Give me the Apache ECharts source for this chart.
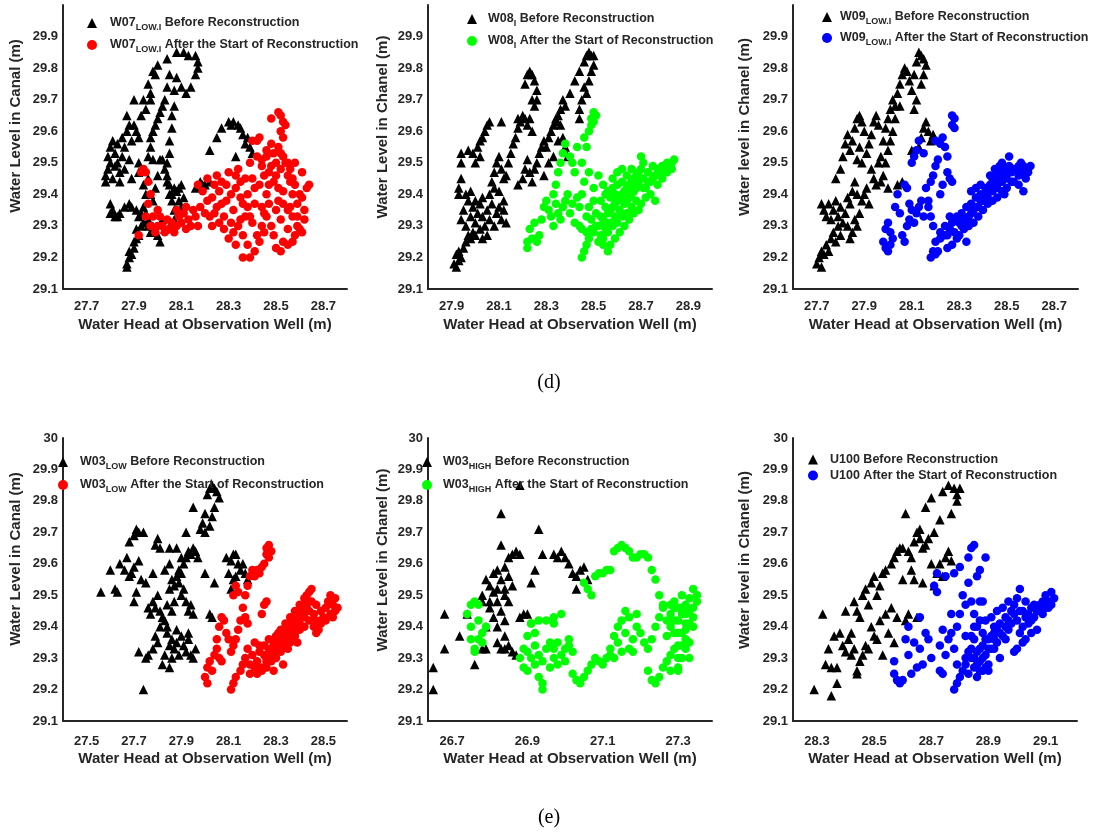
<!DOCTYPE html>
<html><head><meta charset="utf-8">
<script src="https://cdn.jsdelivr.net/npm/echarts@6/dist/echarts.min.js"></script>
<style>html,body{margin:0;padding:0;background:#fff}#c{width:1099px;height:834px}</style>
</head><body><div id="c"></div>
<script>
// ---------- DATA (x = water head at observation well, y = water level in canal/chanel) ----------
const w07Before = [[27.87,29.17],[27.87,29.18],[27.88,29.20],[27.88,29.22],[27.89,29.21],[27.90,29.23],[27.90,29.25],[27.91,29.26],[27.92,29.27],[27.91,29.29],[27.93,29.30],[27.94,29.31],[27.92,29.33],[27.95,29.34],[27.96,29.32],[27.94,29.36],
[27.80,29.37],[27.81,29.35],[27.82,29.33],[27.83,29.33],[27.84,29.34],[27.86,29.36],[27.88,29.37],[27.89,29.36],[27.91,29.35],[27.93,29.34],[27.80,29.34],
[27.78,29.46],[27.78,29.44],[27.79,29.48],[27.80,29.50],[27.80,29.55],[27.81,29.57],[27.82,29.53],[27.83,29.56],[27.83,29.50],[27.84,29.47],[27.85,29.52],[27.85,29.58],[27.86,29.55],[27.87,29.60],[27.87,29.65],[27.88,29.62],[27.89,29.57],[27.90,29.62],[27.90,29.70],[27.91,29.60],[27.92,29.58],[27.93,29.65],[27.94,29.70],[27.95,29.67],[27.96,29.75],[27.97,29.70],[27.97,29.72],[27.98,29.79],[27.99,29.78],[28.00,29.81],[28.04,29.83],[28.08,29.85],[28.11,29.85],[28.13,29.84],[28.16,29.84],[28.17,29.82],[28.17,29.80],[28.16,29.78],[28.14,29.74],[28.12,29.72],[28.10,29.74],[28.08,29.77],[28.07,29.73],[28.07,29.68],[28.06,29.65],[28.06,29.61],[28.05,29.57],[28.05,29.53],[28.04,29.50],[28.04,29.46],[28.05,29.43],[28.06,29.40],[28.07,29.42],
[28.05,29.78],[28.04,29.74],[28.03,29.70],[28.02,29.68],[28.01,29.66],[28.00,29.64],[27.99,29.62],[27.98,29.60],[27.97,29.58],[27.97,29.55],[27.96,29.52],[27.98,29.51],
[27.79,29.52],[27.81,29.45],[27.82,29.49],[27.84,29.44],[27.86,29.48],[27.88,29.51],[27.89,29.45],[27.92,29.50],[27.92,29.47],[28.09,29.42],[28.11,29.39],[28.10,29.43],
[28.22,29.54],[28.25,29.58],[28.27,29.61],[28.30,29.63],[28.32,29.63],[28.34,29.62],[28.35,29.61],[28.36,29.59],[28.38,29.58],[28.39,29.55],[28.40,29.53],[28.33,29.52],[28.37,29.56],[28.31,29.62],
[28.16,29.42],[28.18,29.44],[28.20,29.43],[28.22,29.44],[28.19,29.43],
[27.96,29.45],[27.97,29.40],[27.98,29.38],[27.99,29.42],[28.00,29.46],[28.01,29.51],[28.02,29.51],[28.03,29.48],[28.04,29.44],[28.05,29.40],[28.06,29.38],[28.07,29.35],[28.08,29.41],[28.09,29.38],[28.10,29.36],[28.02,29.32],[28.00,29.27],[28.01,29.25],[28.03,29.29],[28.05,29.30],[28.07,29.32],[27.98,29.30],[27.97,29.28],[27.96,29.30],[27.95,29.40],[27.94,29.43]];
const w07After = [[27.92,29.27],[27.93,29.47],[27.94,29.48],[27.95,29.47],[27.96,29.44],[27.97,29.40],[27.96,29.37],[27.95,29.33],[27.97,29.30],[27.99,29.28],[28.00,29.30],[28.01,29.33],[28.02,29.30],[28.03,29.28],[28.04,29.32],[28.05,29.29],[28.06,29.31],[28.07,29.28],[28.08,29.30],[28.09,29.33],[28.10,29.31],[28.11,29.34],[28.12,29.29],[28.13,29.32],[28.14,29.30],[28.15,29.35],[28.16,29.33],[28.17,29.30],[28.18,29.36],[28.20,29.34],[28.21,29.45],[28.19,29.41],[28.17,29.43],[28.23,29.39],[28.24,29.43],[28.25,29.46],[28.26,29.41],[28.27,29.37],[28.28,29.33],[28.29,29.43],[28.30,29.47],[28.31,29.40],[28.32,29.35],[28.33,29.42],[28.34,29.48],[28.35,29.44],[28.36,29.37],[28.37,29.33],[28.38,29.40],[28.39,29.50],[28.40,29.45],[28.41,29.42],[28.42,29.57],[28.43,29.58],[28.42,29.52],[28.44,29.49],[28.45,29.46],[28.46,29.40],[28.47,29.43],[28.48,29.49],[28.49,29.53],[28.50,29.46],[28.51,29.42],[28.52,29.48],[28.53,29.52],[28.54,29.50],[28.55,29.46],[28.56,29.44],[28.57,29.40],[28.58,29.43],[28.59,29.37],[28.60,29.40],[28.61,29.47],[28.62,29.35],[28.63,29.42],[28.64,29.43],[28.62,29.32],[28.61,29.28],[28.59,29.30],[28.57,29.33],[28.55,29.29],[28.53,29.25],[28.52,29.22],[28.50,29.23],[28.49,29.27],[28.48,29.30],[28.46,29.33],[28.45,29.28],[28.43,29.25],[28.41,29.22],[28.39,29.20],[28.36,29.20],[28.33,29.24],[28.32,29.28],[28.34,29.30],[28.30,29.26],[28.28,29.29],[28.26,29.31],[28.24,29.34],[28.22,29.33],[28.35,29.32],[28.38,29.36],[28.40,29.31],[28.44,29.36],[28.47,29.37],[28.50,29.35],[28.53,29.37],[28.56,29.36],[28.58,29.27],[28.60,29.29],[28.57,29.25],
[28.21,29.38],[28.23,29.30],[28.25,29.36],[28.27,29.44],[28.29,29.38],[28.31,29.31],[28.33,29.46],[28.35,29.39],[28.37,29.45],[28.39,29.33],[28.41,29.37],[28.43,29.43],[28.45,29.34],[28.47,29.47],[28.49,29.44],[28.51,29.38],[28.53,29.41],[28.55,29.35],[28.57,29.45],[28.59,29.33],[28.61,29.39],[28.46,29.52],[28.48,29.56],[28.50,29.50],[28.44,29.30],[28.42,29.27],[28.55,29.24],[28.52,29.32],[28.36,29.27],[28.38,29.24],[28.12,29.36],[28.08,29.35],[28.00,29.35],[27.98,29.33],
[28.48,29.64],[28.51,29.66],[28.52,29.65],[28.53,29.63],[28.54,29.62],[28.52,29.60],[28.53,29.58],[28.51,29.55],[28.52,29.53],[28.55,29.50],[28.58,29.50],[28.56,29.48],[28.46,29.54],[28.40,29.57],[28.44,29.51]];

const w08Before = [[27.91,29.18],[27.92,29.17],[27.93,29.19],[27.92,29.21],[27.94,29.20],[27.93,29.22],[27.95,29.23],[27.96,29.25],[27.97,29.27],[27.98,29.26],[27.99,29.28],[28.00,29.27],[28.02,29.29],[28.03,29.26],[28.05,29.27],
[27.94,29.32],[27.95,29.35],[27.96,29.30],[27.97,29.38],[27.98,29.33],[27.99,29.36],[28.00,29.31],[28.01,29.34],[28.02,29.37],[28.03,29.33],[28.04,29.30],[28.05,29.35],[28.06,29.32],[28.07,29.37],[28.08,29.30],[28.09,29.34],[28.10,29.36],[28.11,29.32],[28.12,29.35],[28.13,29.31],[28.12,29.38],[27.96,29.40],[27.98,29.41],[28.00,29.38],[28.03,29.39],[28.06,29.40],[28.08,29.42],[28.10,29.41],
[27.93,29.42],[27.94,29.45],[27.94,29.50],[27.94,29.53],[27.93,29.40],
[27.97,29.54],[27.99,29.53],[28.00,29.50],[28.01,29.55],[28.02,29.57],[28.03,29.58],[28.04,29.60],[28.05,29.62],[28.06,29.63],[28.02,29.52],[28.07,29.44],[28.08,29.47],[28.09,29.50],[28.10,29.52],[28.11,29.48],[28.12,29.45],[28.13,29.46],[28.14,29.50],[28.15,29.53],[28.16,29.56],[28.17,29.58],[28.18,29.61],[28.19,29.63],[28.20,29.65],[28.21,29.64],[28.22,29.62],[28.23,29.64],[28.24,29.60],[28.21,29.75],[28.22,29.78],[28.23,29.79],[28.24,29.78],[28.25,29.76],[28.26,29.73],[28.26,29.70],[28.25,29.68],[28.24,29.70],[28.11,29.63],[28.18,29.64],
[28.18,29.43],[28.20,29.45],[28.21,29.48],[28.22,29.51],[28.23,29.47],[28.24,29.44],[28.25,29.48],[28.26,29.50],[28.27,29.53],[28.28,29.55],[28.29,29.57],[28.30,29.55],[28.31,29.58],[28.32,29.60],[28.33,29.62],[28.34,29.63],[28.35,29.65],[28.36,29.62],[28.37,29.58],[28.38,29.55],[28.39,29.52],[28.31,29.50],[28.33,29.52],[28.35,29.57],[28.29,29.46],
[28.37,29.70],[28.38,29.68],[28.40,29.72],[28.42,29.76],[28.44,29.79],[28.46,29.82],[28.47,29.84],[28.48,29.85],[28.49,29.84],[28.50,29.84],[28.50,29.81],[28.49,29.79],[28.48,29.76],[28.47,29.72],[28.45,29.70],[28.44,29.67],[28.44,29.64],[28.46,29.74],[28.36,29.67],[28.34,29.64]];
const w08After = [[28.22,29.23],[28.22,29.25],[28.23,29.29],[28.24,29.26],[28.25,29.31],[28.26,29.25],[28.27,29.27],[28.28,29.32],[28.29,29.36],[28.30,29.38],[28.31,29.35],[28.32,29.33],[28.33,29.30],[28.34,29.37],[28.35,29.34],[28.33,29.40],[28.34,29.43],[28.35,29.47],[28.36,29.50],[28.37,29.53],[28.38,29.56],[28.36,29.32],[28.37,29.36],[28.38,29.38],[28.39,29.40],[28.40,29.34],[28.41,29.37],[28.42,29.31],[28.43,29.39],[28.44,29.36],[28.45,29.40],[28.46,29.44],[28.42,29.47],[28.41,29.50],[28.40,29.52],[28.43,29.55],[28.46,29.58],[28.47,29.55],[28.48,29.60],[28.49,29.62],[28.49,29.64],[28.50,29.66],[28.51,29.65],[28.50,29.63],[28.45,29.50],[28.48,29.47],
[28.45,29.20],[28.46,29.22],[28.47,29.24],[28.48,29.26],[28.47,29.28],[28.45,29.29],[28.44,29.30],
[28.50,29.28],[28.52,29.30],[28.53,29.27],[28.54,29.32],[28.55,29.29],[28.56,29.34],[28.57,29.31],[28.58,29.36],[28.59,29.33],[28.60,29.38],[28.61,29.35],[28.62,29.40],[28.63,29.37],[28.64,29.42],[28.65,29.39],[28.66,29.44],[28.67,29.41],[28.68,29.46],[28.69,29.43],[28.70,29.48],[28.71,29.45],[28.72,29.42],[28.73,29.47],[28.74,29.44],[28.75,29.49],[28.76,29.46],[28.77,29.43],[28.78,29.47],[28.79,29.45],[28.80,29.49],[28.81,29.47],[28.82,29.48],[28.83,29.50],[28.84,29.51],[28.52,29.25],[28.54,29.26],[28.56,29.28],[28.58,29.30],[28.60,29.31],[28.62,29.33],[28.64,29.34],[28.66,29.36],[28.68,29.38],[28.70,29.37],[28.72,29.39],[28.74,29.40],[28.76,29.38],[28.50,29.42],[28.52,29.46],[28.54,29.43],[28.56,29.41],[28.58,29.45],[28.60,29.43],[28.62,29.44],[28.64,29.46],[28.66,29.48],[28.68,29.45],[28.70,29.52],[28.71,29.50],[28.53,29.38],[28.55,29.36],[28.57,29.39],[28.59,29.40],[28.48,29.36],[28.49,29.32],[28.51,29.34],[28.61,29.28],[28.63,29.30],[28.65,29.32],[28.67,29.34],[28.69,29.35],[28.57,29.24],[28.59,29.26],
[28.51,29.30],[28.53,29.33],[28.55,29.31],[28.57,29.35],[28.59,29.37],[28.61,29.39],[28.63,29.41],[28.65,29.43],[28.67,29.45],[28.69,29.47],[28.71,29.42],[28.73,29.44],[28.75,29.45],[28.77,29.48],[28.79,29.49],[28.81,29.50],[28.83,29.48],[28.60,29.47],[28.62,29.48],[28.58,29.42],[28.55,29.40],[28.50,29.38],[28.47,29.33],[28.49,29.29],[28.54,29.24],[28.56,29.22],[28.64,29.38],[28.66,29.40],[28.68,29.42]];

const w09Before = [[27.70,29.18],[27.71,29.20],[27.72,29.17],[27.72,29.22],[27.73,29.21],[27.74,29.24],[27.75,29.22],[27.76,29.26],[27.77,29.28],[27.78,29.25],[27.79,29.30],[27.80,29.27],
[27.72,29.37],[27.73,29.35],[27.74,29.33],[27.75,29.37],[27.76,29.32],[27.77,29.35],[27.78,29.38],[27.79,29.33],[27.80,29.36],[27.81,29.31],[27.82,29.34],[27.83,29.30],[27.84,29.37],[27.85,29.28],[27.86,29.32],[27.87,29.30],[27.88,29.34],[27.83,29.39],[27.85,29.41],[27.86,29.44],[27.87,29.40],[27.89,29.38],[27.90,29.40],[27.91,29.42],[27.92,29.37],[27.84,29.26],
[27.78,29.45],[27.80,29.48],[27.81,29.52],[27.82,29.56],[27.83,29.59],[27.84,29.54],[27.85,29.57],[27.86,29.61],[27.87,29.64],[27.88,29.65],[27.89,29.63],[27.90,29.60],[27.88,29.55],[27.87,29.51],[27.89,29.50],[27.91,29.53],[27.92,29.56],[27.93,29.59],[27.94,29.63],[27.95,29.65],[27.96,29.62],[27.93,29.48],[27.94,29.45],[27.95,29.43],[27.96,29.50],[27.97,29.52],[27.98,29.57],[27.99,29.61],[28.00,29.64],[28.01,29.67],[28.02,29.70],[28.03,29.68],[28.04,29.72],[28.05,29.75],[28.06,29.78],[28.07,29.80],[28.08,29.79],[28.09,29.76],[28.10,29.73],[28.11,29.78],[28.12,29.82],[28.13,29.85],[28.14,29.84],[28.15,29.83],[28.16,29.81],[28.15,29.78],[28.14,29.75],[28.12,29.70],[28.11,29.67],[28.05,29.68],[28.03,29.64],[28.02,29.60],[28.01,29.57],[28.00,29.54],[27.99,29.50],[27.98,29.46],[27.97,29.44],[28.00,29.42],[28.04,29.43],[28.06,29.44],[28.14,29.58],[28.15,29.61],[28.16,29.63],[28.17,29.60],[28.18,29.57],[28.19,29.59],[28.13,29.55],[28.10,29.54]];
const w09After = [[27.98,29.25],[27.99,29.23],[28.00,29.22],[28.01,29.24],[27.99,29.29],[28.00,29.31],[28.01,29.28],[28.02,29.26],[28.03,29.36],[28.04,29.40],[28.05,29.34],[28.06,29.27],[28.07,29.25],[28.08,29.30],[28.09,29.32],[28.10,29.35],[28.07,29.43],[28.08,29.42],[28.09,29.37],[28.11,29.31],[28.12,29.34],[28.13,29.36],[28.14,29.38],[28.10,29.50],[28.11,29.52],[28.12,29.54],[28.13,29.57],[28.15,29.53],[28.16,29.42],[28.17,29.38],[28.18,29.33],[28.19,29.30],[28.20,29.25],[28.21,29.22],[28.22,29.26],[28.18,29.44],[28.19,29.46],[28.20,29.49],[28.21,29.51],[28.20,29.57],[28.22,29.56],[28.23,29.58],[28.24,29.55],[28.25,29.52],[28.25,29.47],[28.26,29.45],[28.27,29.44],[28.27,29.62],[28.27,29.65],[28.28,29.64],[28.28,29.61],[28.17,29.36],[28.15,29.33],[28.22,29.40],[28.23,29.43],
[28.18,29.20],[28.19,29.22],[28.20,29.21],
[28.22,29.28],[28.24,29.30],[28.25,29.27],[28.26,29.29],[28.27,29.31],[28.28,29.28],[28.29,29.33],[28.30,29.31],[28.31,29.34],[28.32,29.32],[28.33,29.36],[28.34,29.33],[28.35,29.37],[28.36,29.35],[28.37,29.39],[28.38,29.36],[28.39,29.40],[28.40,29.38],[28.41,29.42],[28.42,29.39],[28.43,29.43],[28.44,29.41],[28.45,29.45],[28.46,29.42],[28.47,29.46],[28.48,29.44],[28.49,29.48],[28.50,29.45],[28.51,29.49],[28.52,29.47],[28.53,29.44],[28.54,29.48],[28.55,29.46],[28.56,29.50],[28.57,29.47],[28.58,29.45],[28.59,29.48],[28.60,29.49],[28.51,29.52],[28.35,29.41],[28.33,29.25],[28.30,29.27],[28.32,29.29],[28.34,29.30],[28.36,29.31],[28.38,29.33],[28.40,29.35],[28.42,29.37],[28.44,29.38],[28.46,29.39],[28.48,29.41],[28.50,29.42],[28.52,29.44],[28.29,29.26],[28.27,29.24],[28.25,29.23],[28.39,29.43],[28.37,29.42],[28.43,29.46],[28.45,29.48],[28.47,29.49],[28.49,29.40],[28.55,29.43],[28.57,29.41],
[28.31,29.30],[28.33,29.32],[28.35,29.34],[28.37,29.36],[28.39,29.38],[28.41,29.40],[28.43,29.41],[28.45,29.43],[28.47,29.44],[28.49,29.46],[28.51,29.47],[28.53,29.48],[28.55,29.49],[28.57,29.49],[28.59,29.47],[28.44,29.45],[28.46,29.47],[28.48,29.50],[28.28,29.32],[28.26,29.33],[28.24,29.27]];

const w03LowBefore = [[27.74,29.20],[27.72,29.32],[27.75,29.30],[27.76,29.31],[27.78,29.33],[27.80,29.35],[27.82,29.28],[27.85,29.27],[27.79,29.37],[27.81,29.40],[27.83,29.42],[27.84,29.38],[27.85,29.34],[27.86,29.36],[27.87,29.33],[27.88,29.35],[27.89,29.31],[27.90,29.37],[27.91,29.34],[27.92,29.32],[27.93,29.36],[27.94,29.31],[27.95,29.30],[27.96,29.33],[27.93,29.38],[27.86,29.30],[27.83,29.31],[27.88,29.39],
[27.77,29.44],[27.78,29.48],[27.79,29.46],[27.80,29.50],[27.81,29.45],[27.82,29.43],[27.84,29.47],[27.85,29.52],[27.86,29.55],[27.87,29.53],[27.88,29.56],[27.89,29.54],[27.90,29.50],[27.91,29.52],[27.92,29.48],[27.93,29.45],[27.94,29.47],[27.95,29.44],[27.89,29.58],[27.90,29.57],[27.91,29.60],[27.92,29.62],[27.93,29.64],[27.94,29.63],[27.95,29.65],[27.96,29.64],[27.97,29.62],[27.88,29.65],[27.90,29.62],[27.85,29.60],[27.87,29.48],[27.86,29.45],[27.84,29.40],
[27.56,29.51],[27.60,29.58],[27.62,29.52],[27.63,29.51],[27.64,29.60],[27.66,29.58],[27.67,29.62],[27.68,29.56],[27.69,29.57],[27.70,29.59],[27.71,29.71],[27.72,29.70],[27.74,29.70],[27.68,29.67],[27.70,29.69],[27.71,29.51],[27.72,29.61],[27.73,29.55],[27.75,29.54],[27.76,29.46],[27.78,29.57],[27.79,29.66],[27.80,29.68],[27.81,29.65],[27.83,29.58],[27.85,29.65],[27.92,29.70],[27.95,29.78],[27.70,29.48],
[27.98,29.71],[27.99,29.73],[28.00,29.76],[28.01,29.82],[28.02,29.84],[28.03,29.85],[28.04,29.84],[28.05,29.83],[28.06,29.81],[28.04,29.78],[28.03,29.75],[28.02,29.72],[28.00,29.70],
[28.00,29.57],[28.02,29.44],[28.03,29.43],[28.04,29.54],[28.09,29.62],[28.11,29.61],[28.12,29.63],[28.13,29.63],[28.14,29.60],[28.15,29.58],[28.16,29.60],[28.17,29.57],[28.18,29.55],[28.12,29.55],[28.11,29.52],[28.10,29.57],[28.13,29.56]];
const w03LowAfter = [[28.01,29.22],[28.00,29.24],[28.01,29.27],[28.02,29.29],[28.03,29.26],[28.04,29.31],[28.05,29.33],[28.06,29.30],[28.07,29.29],[28.05,29.36],[28.06,29.40],[28.07,29.43],[28.08,29.42],[28.09,29.38],[28.10,29.36],[28.11,29.32],[28.12,29.34],[28.13,29.36],[28.14,29.39],[28.15,29.42],[28.16,29.46],[28.17,29.50],[28.18,29.53],[28.19,29.56],[28.20,29.58],[28.21,29.56],[28.22,29.58],[28.23,29.57],[28.24,29.59],[28.25,29.60],[28.26,29.63],[28.26,29.65],[28.27,29.66],[28.28,29.64],[28.27,29.62],[28.12,29.50],[28.13,29.53],[28.14,29.51],[28.17,29.43],[28.18,29.41],[28.25,29.47],[28.26,29.48],[28.24,29.44],
[28.11,29.20],[28.12,29.22],[28.13,29.24],[28.15,29.26],[28.16,29.28],
[28.17,29.30],[28.18,29.33],[28.19,29.28],[28.20,29.31],[28.21,29.35],[28.22,29.29],[28.23,29.32],[28.24,29.27],[28.25,29.34],[28.26,29.30],[28.27,29.36],[28.28,29.33],[28.29,29.31],[28.30,29.37],[28.31,29.34],[28.32,29.39],[28.33,29.36],[28.34,29.41],[28.35,29.38],[28.36,29.43],[28.37,29.40],[28.38,29.45],[28.39,29.42],[28.40,29.47],[28.41,29.44],[28.42,29.49],[28.43,29.46],[28.44,29.51],[28.45,29.48],[28.46,29.44],[28.47,29.42],[28.48,29.39],[28.49,29.41],[28.50,29.43],[28.51,29.46],[28.52,29.48],[28.53,29.50],[28.54,29.47],[28.55,29.45],[28.56,29.46],[28.54,29.43],[28.22,29.25],[28.24,29.26],[28.26,29.27],[28.28,29.29],[28.30,29.30],[28.32,29.32],[28.34,29.34],[28.36,29.35],[28.38,29.37],[28.40,29.39],[28.42,29.40],[28.44,29.42],[28.46,29.40],[28.29,29.26],[28.33,29.28],[28.45,29.52],[28.43,29.50],[28.47,29.38],[28.31,29.38],[28.35,29.33],[28.39,29.35],
[28.23,29.34],[28.25,29.31],[28.27,29.33],[28.29,29.35],[28.31,29.36],[28.33,29.38],[28.35,29.40],[28.37,29.42],[28.39,29.44],[28.41,29.46],[28.43,29.48],[28.44,29.45],[28.42,29.43],[28.40,29.41],[28.38,29.39],[28.36,29.37],[28.34,29.36],[28.32,29.35],[28.30,29.33],[28.28,29.31],[28.26,29.29],[28.21,29.27],[28.19,29.25],[28.55,29.49],[28.53,29.44],[28.51,29.42],[28.49,29.45],[28.47,29.47]];

const w03HighBefore = [[26.65,29.20],[26.65,29.27],[26.68,29.33],[26.68,29.44],[26.72,29.37],[26.74,29.44],[26.76,29.28],[26.78,29.33],[26.79,29.33],[26.79,29.40],[26.78,29.48],[26.78,29.50],[26.79,29.55],[26.80,29.53],[26.80,29.46],[26.81,29.51],[26.81,29.57],[26.82,29.52],[26.82,29.48],[26.82,29.40],[26.82,29.35],[26.83,29.33],[26.83,29.55],[26.83,29.66],[26.83,29.76],[26.84,29.59],[26.84,29.50],[26.84,29.42],[26.84,29.37],[26.85,29.34],[26.85,29.56],[26.85,29.62],[26.86,29.53],[26.86,29.32],[26.86,29.63],[26.87,29.64],[26.87,29.31],[26.88,29.63],[26.88,29.85],[26.88,29.43],[26.89,29.44],[26.90,29.44],[26.91,29.54],[26.92,29.58],[26.93,29.71],[26.94,29.63],[26.97,29.63],[26.98,29.62],[26.99,29.64],[27.00,29.62],[27.01,29.60],[27.02,29.57],[27.03,29.56],[27.04,29.58],[27.05,29.59],[27.06,29.55],[27.03,29.52],[26.84,29.33],[26.83,29.45],[26.82,29.58],[26.85,29.48],[26.84,29.52],[26.80,29.48],[26.81,29.43]];
const w03HighAfter = [[26.74,29.44],[26.75,29.47],[26.76,29.48],[26.77,29.47],[26.75,29.40],[26.75,29.36],[26.76,29.33],[26.76,29.32],[26.77,29.36],[26.78,29.38],[26.79,29.40],[26.77,29.42],[26.78,29.35],
[26.88,29.30],[26.89,29.27],[26.89,29.33],[26.90,29.26],[26.90,29.37],[26.91,29.30],[26.91,29.41],[26.92,29.28],[26.92,29.34],[26.93,29.42],[26.93,29.24],[26.94,29.20],[26.94,29.22],[26.93,29.31],[26.94,29.29],[26.95,29.33],[26.95,29.42],[26.96,29.27],[26.97,29.30],[26.97,29.41],[26.98,29.28],[26.98,29.35],[26.99,29.31],[26.99,29.44],[27.00,29.29],[27.00,29.33],[27.01,29.34],[27.01,29.36],[27.02,29.25],[27.03,29.23],[27.04,29.22],[27.05,29.24],[27.06,29.26],[27.07,29.28],[27.08,29.30],[27.09,29.29],[27.10,29.28],[27.11,29.30],[27.12,29.31],[27.13,29.30],[27.12,29.33],[27.13,29.37],[27.14,29.40],[27.14,29.35],[27.15,29.32],[27.15,29.42],[27.16,29.45],[27.16,29.38],[27.17,29.33],[27.17,29.43],[27.18,29.36],[27.18,29.32],[27.19,29.40],[27.19,29.44],[27.20,29.38],[27.21,29.35],[27.22,29.33],[27.22,29.26],[27.23,29.23],[27.24,29.22],[27.25,29.24],[27.26,29.27],[27.27,29.29],[27.28,29.31],[27.28,29.26],[27.23,29.36],[27.24,29.40],[27.25,29.43],[27.26,29.46],[27.27,29.42],[27.28,29.44],[27.29,29.48],[27.29,29.38],[27.30,29.42],[27.30,29.46],[27.30,29.34],[27.31,29.50],[27.31,29.44],[27.31,29.38],[27.31,29.30],[27.32,29.47],[27.32,29.41],[27.32,29.36],[27.32,29.33],[27.33,29.45],[27.33,29.49],[27.34,29.43],[27.34,29.52],[27.35,29.50],[27.30,29.27],[27.30,29.26],
[27.29,29.33],[27.29,29.42],[27.30,29.38],[27.30,29.30],[27.31,29.46],[27.31,29.34],[27.32,29.44],[27.32,29.39],[27.33,29.41],[27.33,29.35],[27.34,29.46],[27.34,29.40],[27.29,29.46],[27.28,29.40],[27.27,29.37],[27.33,29.30],[27.28,29.47],[27.35,29.48],[26.92,29.38],[26.96,29.35],[26.97,29.33],[27.02,29.32],[26.90,29.32],
[27.05,29.54],[27.06,29.52],[27.07,29.50],[27.08,29.56],[27.09,29.57],[27.10,29.57],[27.11,29.58],[27.12,29.58],[27.13,29.64],[27.14,29.65],[27.15,29.66],[27.16,29.65],[27.17,29.64],[27.18,29.62],[27.19,29.62],[27.20,29.63],[27.21,29.63],[27.22,29.62],[27.23,29.58],[27.24,29.55],[27.25,29.50],[27.26,29.47],[26.97,29.43],[26.91,29.41]];

const u100Before = [[28.29,29.20],[28.32,29.44],[28.33,29.28],[28.35,29.27],[28.35,29.18],[28.37,29.22],[28.37,29.27],[28.34,29.33],[28.36,29.37],[28.38,29.38],[28.39,29.34],[28.40,29.32],[28.41,29.36],[28.42,29.38],[28.43,29.33],[28.44,29.26],[28.44,29.25],[28.45,29.29],[28.40,29.45],[28.43,29.48],[28.44,29.45],[28.45,29.43],[28.46,29.50],[28.47,29.52],[28.47,29.34],[28.48,29.33],[28.48,29.47],[28.49,29.54],[28.50,29.56],[28.50,29.37],[28.51,29.50],[28.52,29.53],[28.52,29.42],[28.53,29.31],[28.53,29.57],[28.54,29.58],[28.54,29.44],[28.55,29.38],[28.56,29.46],[28.56,29.60],[28.57,29.35],[28.57,29.62],[28.58,29.43],[28.58,29.64],[28.59,29.65],[28.60,29.65],[28.61,29.76],[28.60,29.55],[28.61,29.42],[28.62,29.64],[28.62,29.44],[28.63,29.58],[28.63,29.62],[28.64,29.67],[28.64,29.55],[28.65,29.70],[28.65,29.43],[28.66,29.71],[28.66,29.68],[28.67,29.65],[28.67,29.54],[28.68,29.78],[28.68,29.66],[28.69,29.68],[28.70,29.81],[28.70,29.60],[28.71,29.70],[28.71,29.53],[28.72,29.57],[28.73,29.74],[28.73,29.60],[28.74,29.83],[28.74,29.56],[28.75,29.62],[28.76,29.85],[28.76,29.64],[28.77,29.76],[28.77,29.61],[28.78,29.84],[28.79,29.82],[28.79,29.80],[28.80,29.84],[28.49,29.40],[28.51,29.36],[28.46,29.31],[28.42,29.31]];
const u100After = [[28.57,29.29],[28.57,29.25],[28.58,29.23],[28.59,29.22],[28.60,29.23],[28.61,29.36],[28.62,29.31],[28.62,29.40],[28.63,29.25],[28.64,29.35],[28.65,29.27],[28.66,29.33],[28.66,29.43],[28.67,29.28],[28.68,29.38],[28.69,29.36],[28.70,29.30],[28.71,29.53],[28.72,29.51],[28.72,29.57],[28.73,29.34],[28.73,29.26],[28.74,29.39],[28.74,29.25],[28.75,29.56],[28.75,29.31],[28.76,29.36],[28.77,29.44],[28.77,29.38],[28.78,29.57],[28.78,29.33],[28.79,29.28],[28.79,29.40],[28.80,29.59],[28.80,29.44],[28.81,29.50],[28.82,29.37],[28.82,29.47],[28.83,29.54],[28.83,29.62],[28.84,29.65],[28.84,29.48],[28.85,29.66],[28.85,29.44],[28.86,29.56],[28.87,29.58],[28.87,29.48],[28.88,29.48],[28.89,29.62],[28.85,29.36],
[28.78,29.20],[28.79,29.22],[28.80,29.24],[28.81,29.26],[28.82,29.28],[28.83,29.25],[28.84,29.30],[28.85,29.27],[28.86,29.32],[28.86,29.24],[28.87,29.29],[28.88,29.34],[28.88,29.26],[28.89,29.31],[28.90,29.36],[28.90,29.28],[28.91,29.33],[28.92,29.38],[28.92,29.40],[28.93,29.35],[28.94,29.41],[28.94,29.30],[28.95,29.37],[28.96,29.43],[28.97,29.39],[28.98,29.45],[28.98,29.41],[28.99,29.47],[29.00,29.49],[29.00,29.42],[29.01,29.52],[29.01,29.38],[29.02,29.45],[29.02,29.40],[29.03,29.48],[29.03,29.36],[29.04,29.44],[29.04,29.41],[29.05,29.38],[29.05,29.46],[29.06,29.43],[29.07,29.39],[29.07,29.45],[29.08,29.47],[29.09,29.44],[29.09,29.48],[29.10,29.46],[29.10,29.50],[29.11,29.48],[29.12,29.51],[29.12,29.47],[29.13,29.49],[28.99,29.32],[29.00,29.33],[29.02,29.35],[28.96,29.36],[28.95,29.46],[28.97,29.48],[28.91,29.43],[28.93,29.45],[28.89,29.42],[28.84,29.37],[28.86,29.40],[28.87,29.42],[28.90,29.26],[28.83,29.32],[28.88,29.38],[28.92,29.33],
[28.85,29.30],[28.86,29.28],[28.87,29.33],[28.88,29.30],[28.89,29.36],[28.90,29.33],[28.91,29.37],[28.92,29.36],[28.93,29.40],[28.94,29.38],[28.96,29.40],[28.97,29.42],[28.99,29.44],[29.01,29.45],[29.03,29.43],[29.05,29.42],[29.06,29.47],[29.08,29.45],[29.11,29.46],[28.87,29.26],[28.89,29.27],[28.84,29.33],[28.82,29.30],[28.85,29.40]];

// Tick labels
const yTicksTop = [29.1,29.2,29.3,29.4,29.5,29.6,29.7,29.8,29.9];
const yTicksBottom = [29.1,29.2,29.3,29.4,29.5,29.6,29.7,29.8,29.9,30];
const xTicks = [
  [27.7,27.9,28.1,28.3,28.5,28.7],
  [27.9,28.1,28.3,28.5,28.7,28.9],
  [27.7,27.9,28.1,28.3,28.5,28.7],
  [27.5,27.7,27.9,28.1,28.3,28.5],
  [26.7,26.9,27.1,27.3],
  [28.3,28.5,28.7,28.9,29.1]
];
const xRanges = [[27.6,28.8],[27.8,29.0],[27.6,28.8],[27.4,28.6],[26.636,27.39],[28.216,29.21]];
const xTitle = 'Water Head at Observation Well (m)';
const yTitles = ['Water Level in Canal (m)','Water Level in Chanel (m)','Water level in Chanel (m)','Water Level in Canal (m)','Water Level in Chanel (m)','Water level in Chanel (m)'];
// legend labels: [well, subscript, text]
const legendBefore = [['W07','LOW.I',' Before Reconstruction'],['W08','I',' Before Reconstruction'],['W09','LOW.I',' Before Reconstruction'],['W03','LOW',' Before Reconstruction'],['W03','HIGH',' Before Reconstruction'],['U100','',' Before Reconstruction']];
const legendAfter = [['W07','LOW.I',' After the Start of Reconstruction'],['W08','I',' After the Start of Reconstruction'],['W09','LOW.I',' After the Start of Reconstruction'],['W03','LOW',' After the Start of Reconstruction'],['W03','HIGH',' After the Start of Reconstruction'],['U100','',' After the Start of Reconstruction']];
const captions = ['(d)','(e)'];
const seriesData = [[w07Before,w07After],[w08Before,w08After],[w09Before,w09After],[w03LowBefore,w03LowAfter],[w03HighBefore,w03HighAfter],[u100Before,u100After]];
const afterColors = ['#ff0000','#00ff00','#0000ff','#ff0000','#00ff00','#0000ff'];

// ---------- LAYOUT ----------
const FONT = '"Liberation Sans", Arial, Helvetica, sans-serif';
const TXT = '#262626';
const grids = [
  {left:63, top:5, width:284, height:284},
  {left:428, top:5, width:284, height:284},
  {left:793, top:5, width:285, height:284},
  {left:63, top:438, width:284, height:283},
  {left:428, top:438, width:284, height:283},
  {left:793, top:438, width:284, height:283}
];
// legend: [iconCenterX, firstRowCenterY, rowDistance, spacer]
const legendPos = [[92,21,22,8],[472,17,22,6],[827,15,21,3],[63,460,23,7],[427,460,23,6],[813,460,17,7]];
const yTitlePos = [[16,126],[383,127],[745,127],[16,559],[383,560],[745,560]];

const xAxes = [], yAxes = [], series = [], legends = [], graphics = [];
const MAIN = 12.5;
for (let i = 0; i < 6; i++) {
  const bottom = i >= 3;
  xAxes.push({
    type:'value', gridIndex:i, min:xRanges[i][0], max:xRanges[i][1],
    axisLine:{show:true, onZero:false, lineStyle:{color:TXT, width:2}},
    axisTick:{show:false, customValues:xTicks[i]},
    splitLine:{show:false},
    axisLabel:{customValues:xTicks[i], color:TXT, fontSize:13, fontWeight:'bold', fontFamily:FONT, margin: bottom ? 14 : 11},
    name:xTitle, nameLocation:'middle', nameGap: bottom ? 30 : 28,
    nameTextStyle:{color:TXT, fontSize:15, fontWeight:'bold', fontFamily:FONT}
  });
  const yt = bottom ? yTicksBottom : yTicksTop;
  yAxes.push({
    type:'value', gridIndex:i, min:29.1, max:30,
    axisLine:{show:true, onZero:false, lineStyle:{color:TXT, width:2}},
    axisTick:{show:false, customValues:yt},
    splitLine:{show:false},
    axisLabel:{customValues:yt, color:TXT, fontSize:13, fontWeight:'bold', fontFamily:FONT, margin:5}
  });
  const nb = 'before' + i, na = 'after' + i;
  series.push({type:'scatter', name:nb, xAxisIndex:i, yAxisIndex:i, data:seriesData[i][0], symbol:'triangle', symbolSize:9.5, itemStyle:{color:'#000000', opacity:1}});
  series.push({type:'scatter', name:na, xAxisIndex:i, yAxisIndex:i, data:seriesData[i][1], symbol:'circle', symbolSize:8.5, itemStyle:{color:afterColors[i], opacity:1}});
  const lp = legendPos[i];
  const hasSub = !!legendBefore[i][1];
  const labels = {};
  labels[nb] = legendBefore[i];
  labels[na] = legendAfter[i];
  legends.push({
    data:[nb, na], orient:'vertical', left: lp[0]-5, top: lp[1]-7, padding:0,
    itemWidth:10, itemHeight:10, itemGap: lp[2] - (hasSub ? 18 : 14), selectedMode:false,
    formatter: function(name){
      const l = labels[name];
      return '{sp| }{m|' + l[0] + '}' + (l[1] ? '{s|' + l[1] + '}' : '') + '{m|' + l[2] + '}';
    },
    textStyle:{
      color:TXT, fontFamily:FONT, fontWeight:'bold', fontSize:MAIN,
      rich:{
        sp:{width:lp[3], fontSize:MAIN, lineHeight:14},
        m:{color:TXT, fontFamily:FONT, fontWeight:'bold', fontSize:MAIN, lineHeight:14},
        s:{color:TXT, fontFamily:FONT, fontWeight:'bold', fontSize:9, lineHeight:14, padding:[9,0,0,0]}
      }
    }
  });
  graphics.push({
    type:'text', x:yTitlePos[i][0], y:yTitlePos[i][1], rotation:Math.PI/2,
    style:{text:yTitles[i], fill:TXT, font:'bold 15px ' + FONT, align:'center', verticalAlign:'middle'}
  });
}
graphics.push({type:'text', x:549, y:383, style:{text:captions[0], fill:'#000', font:'20px "Liberation Serif", "Times New Roman", serif', align:'center', verticalAlign:'middle'}});
graphics.push({type:'text', x:549, y:818, style:{text:captions[1], fill:'#000', font:'20px "Liberation Serif", "Times New Roman", serif', align:'center', verticalAlign:'middle'}});

const chart = echarts.init(document.getElementById('c'), null, {renderer:'canvas'});
chart.setOption({
  animation:false,
  backgroundColor:'#ffffff',
  grid:grids,
  xAxis:xAxes,
  yAxis:yAxes,
  legend:legends,
  series:series,
  graphic:graphics
});
</script></body></html>
